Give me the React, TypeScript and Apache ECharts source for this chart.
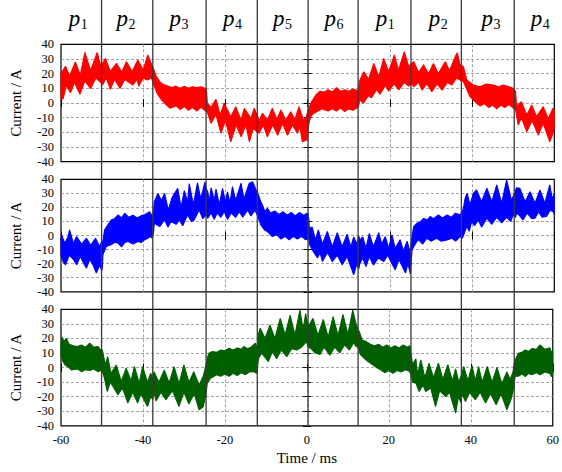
import React, { useEffect, useRef } from "react";
import * as echarts from "echarts";

type P = [number, number];

// ---- axes / layout data ----
const xMin = -60;
const xMax = 60;
const xStep = 20;
const yMin = -40;
const yMax = 40;
const yStep = 10;

// phase boundaries (ms) and phase labels
const phaseBounds = [-50.1, -37.6, -24.6, -12.1, 0.3, 12.5, 25.4, 37.7, 50.6];
const phaseNames = ["1", "2", "3", "4", "5", "6", "1", "2", "3", "4"];
const phaseLabelT = [-55.8, -44.2, -31.3, -18.3, -6.1, 6.4, 18.9, 31.8, 44.6, 56.6];

// ---- red (top) band: upper and lower envelope [time ms, current A] ----
const redUpper: P[] = [[-60,20],[-59.6,22],[-58.9,25],[-57.9,18.5],[-56.5,28],[-55.3,19],[-54.2,34.5],[-52.8,22],[-51.2,34.5],[-50.3,25],[-49.2,30.4],[-48,21.5],[-46.5,27],[-45.2,21],[-44.1,28.2],[-42.7,21.5],[-41.3,29.3],[-40,22.5],[-38.9,32.7],[-38.2,28],[-37.6,24],[-36.8,18],[-35.8,14],[-35,12.5],[-34,11.5],[-33,10.5],[-32,11.5],[-31,10],[-30,11.5],[-29,10],[-28,11],[-27,10.5],[-26,11],[-25,10],[-24.6,9],[-24.4,0],[-23.5,-3],[-22.3,2.5],[-21.3,-8.2],[-20.3,-0.2],[-18.7,-9.3],[-17.5,-2.5],[-16.2,-11.6],[-15.4,-3.6],[-13.8,-10.5],[-13,-3.6],[-12.3,-8],[-11.8,-12],[-11,-7],[-9.8,-11.5],[-8.6,-3.6],[-7.5,-11],[-6.5,-4.8],[-5.3,-11.5],[-4.1,-5.9],[-3.1,-11],[-2.1,-2.5],[-1,-12],[-0.3,-9],[0.3,-3],[1,1],[2,5.5],[3,8],[4,7.5],[5,9],[6,7.5],[7,10.5],[8,8],[9,9],[10,8],[11,9.5],[12,8.5],[12.3,9],[12.6,15],[13.7,21.3],[14.8,16],[16.1,27],[17.3,18],[18.5,30.4],[19.7,21.3],[21.1,32.7],[22.1,22.4],[23.5,35],[24.6,24.7],[25.3,27],[25.8,28.2],[27,21],[28.2,26],[29.4,20],[30.6,27],[31.8,20],[33.5,28.2],[34.5,22],[35.9,31.6],[36.4,34.2],[37.1,26],[37.9,24.7],[38.7,15.7],[40.3,12.3],[41.9,11.1],[43.5,13],[45.2,12.3],[46.5,11],[47.6,12.3],[49,11],[50,10],[50.6,8],[50.8,-2],[52,0.9],[53.3,-8.2],[54.5,-1.4],[55.7,-9.3],[57.3,-2.5],[58.5,-10.5],[59.7,-3.6],[60,-5]];
const redLower: P[] = [[-60,3],[-59.5,2.7],[-58.7,12],[-57.7,7],[-56.7,14],[-55.4,6],[-54.2,15],[-52.8,9.8],[-51.5,17],[-50.5,14.5],[-49.9,12.3],[-49,17],[-48,9.3],[-47,16],[-45.6,10],[-44.5,16],[-42.5,12.3],[-41.5,16],[-41.1,11.5],[-40,17],[-39,15.7],[-38,17],[-37.4,12],[-36.5,6],[-35.5,2],[-34.5,-1],[-33.5,-3.5],[-32,-2],[-31,-4.5],[-30,-2.5],[-29,-5],[-28,-3],[-27,-5.5],[-26,-3],[-25,-5],[-24.6,-6],[-24.3,-7],[-23.5,-13.8],[-22.3,-8],[-21.1,-20.6],[-20,-12],[-18.7,-26.4],[-17.4,-15],[-16.2,-23],[-15,-15],[-14.2,-26.4],[-13.2,-17],[-12.6,-19],[-11.8,-20.6],[-10.8,-15],[-9.8,-23],[-8.5,-15],[-7.3,-22],[-6.1,-14],[-4.9,-22],[-3.7,-15],[-2.5,-20.6],[-1.9,-16],[-1.3,-26.4],[-0.1,-25],[0.3,-14],[0.8,-9],[1.5,-7],[2.5,-5.5],[3.5,-4],[5,-5.5],[6,-4],[7,-5.5],[8,-3.5],[9,-5.8],[10,-4],[11,-5],[12,-3.5],[12.4,-2],[12.7,2],[13.6,0],[14.8,5],[15.5,3.5],[16.8,9],[17.6,6],[18.9,12],[19.7,8],[21,13],[22.2,9],[23.5,14],[24.6,11.5],[25.3,13],[25.8,11.1],[27,14],[27.8,8.8],[29,13],[30.2,7.7],[31.5,13],[32.7,8.8],[34,14],[35.1,12.3],[36.2,17],[37.1,15.6],[37.9,14.5],[39.5,4.3],[41.1,-0.2],[42,-2],[43,-0.5],[44,-3],[45,-1.5],[46,-4],[47,-1.5],[48,-3],[49,-1],[50,-3.5],[50.6,-4.8],[51.2,-15],[52,-10],[53.3,-19.6],[54.6,-12],[56.1,-21.8],[57.3,-14],[58.9,-26.4],[59.7,-20.6],[60,-17]];

// ---- blue (middle) band ----
const blueUpper: P[] = [[-60,-2],[-59.8,0],[-59.1,-5.4],[-58.3,-1],[-57.9,4],[-57,-5.4],[-56.2,-0.7],[-55,-6],[-53.8,-1.9],[-52.8,-7],[-51.6,-2],[-50.6,-7.8],[-50.1,-4],[-49.8,-4],[-49.4,4],[-48.6,7.6],[-47.8,11.1],[-47,12],[-46.1,14.7],[-45.3,12.5],[-44.5,15.9],[-43.5,13],[-42.5,14.5],[-41.5,12.5],[-40.5,14],[-39.7,14.7],[-38.5,17],[-37.8,14],[-37.5,16],[-37.3,24],[-36.4,30],[-35.6,25],[-34.8,30],[-33.9,18],[-33,27],[-31.6,33.6],[-30.8,20],[-30,32],[-29.2,24],[-28.8,37],[-27.8,22],[-26.8,37.5],[-26,26],[-25,38],[-24.6,33],[-24.3,31],[-23.9,24],[-23.5,34],[-22.7,25],[-22.3,33],[-21.5,22],[-20.7,33.6],[-20,24],[-19.5,31],[-18.9,23],[-18.3,34.8],[-17.5,25],[-16.2,37.2],[-15.5,26],[-14.2,37.2],[-13.4,38.3],[-12.6,33],[-12.1,30],[-11.4,24],[-11,21.8],[-10.4,17],[-9.8,19.4],[-9,16],[-8,17.5],[-7,15],[-6,17],[-5,14.5],[-4,16.5],[-3,14],[-2,16.5],[-1,14.5],[0,16],[0.3,12],[0.4,5],[1.1,6],[1.9,-3],[2.6,4],[3.6,-6],[4.8,3],[6,-8],[7.2,2],[8.4,-8],[9.6,1],[10.5,-8],[11.2,-1],[12,-6],[12.4,0],[12.7,-3],[13.4,-1],[14.2,-9],[15,1.6],[16,-8],[17.3,2],[18,-6],[18.9,-0.7],[19.7,-9],[20.5,0.5],[21.3,-9],[22.5,-3],[23.3,-11],[24.2,-4],[24.9,-12],[25.3,-2],[25.8,6.4],[26.6,8.8],[27.5,10],[28.2,12.3],[29,11],[29.8,13.5],[30.6,12],[31.8,14.7],[32.8,12.5],[33.9,14.7],[35,13],[35.9,15.9],[37.1,14.7],[37.6,17],[37.9,19.4],[38.3,26.5],[38.8,30],[39.5,21.8],[40.3,30],[41.1,32.4],[42.3,24],[43.6,33.6],[44.8,24.1],[46,36],[47.2,23],[48.4,39.5],[49.6,25],[50.8,34],[51.6,33.6],[52.9,24],[54.1,31.2],[55.3,23],[56.5,32.4],[57.7,23],[58.9,36],[59.5,26],[60,30]];
const blueLower: P[] = [[-60,-14],[-59.5,-18.5],[-58.9,-20.8],[-58,-14],[-57,-17],[-56.2,-20.8],[-55.3,-15],[-54.5,-19.6],[-53.8,-23.2],[-53,-17],[-52.2,-21],[-51.4,-26.7],[-50.6,-21],[-50.1,-25],[-49.9,-22],[-49.8,-13.7],[-49,-7.8],[-47.8,-6.6],[-46.9,-4.8],[-46.1,-5.4],[-45.3,-8],[-44.5,-5],[-43.7,-4.3],[-42.5,-6],[-41.3,-4.3],[-40.5,-5],[-39.7,-3.1],[-38.1,-0.7],[-37.8,-2],[-37.5,2],[-37.3,8.8],[-36,6.4],[-34.8,11.1],[-34,6],[-33.2,10],[-32,8],[-31.2,11],[-30.4,7],[-29.2,14.7],[-28.3,10],[-27.6,11.1],[-26.4,18.2],[-25.5,12],[-24.6,15],[-24.3,12.3],[-23.5,16],[-22.7,11.5],[-22,16],[-21.1,13],[-20.3,17],[-19.5,11.5],[-18.6,16],[-17.5,13],[-16.6,17],[-15.8,13],[-14.6,18],[-13.8,14],[-12.8,18],[-12.2,14],[-11.4,7.6],[-10.5,4],[-9.8,2.8],[-8.6,-0.7],[-7.5,0.5],[-6.5,-2.5],[-5.5,-0.5],[-4.5,-3],[-3.5,-0.5],[-2.5,-2.5],[-1.5,-0.5],[-0.5,-3],[0.3,-2],[0.4,-6],[1.1,-10],[2.4,-16],[3,-12],[3.6,-18.5],[4.8,-12],[6,-18.5],[7.2,-14],[8.4,-20.8],[9.6,-15],[11.2,-27.9],[12,-20],[12.4,-24],[12.7,-20],[13.4,-16],[14.2,-22],[15,-15],[16,-21],[17.2,-16],[18.5,-18.5],[19.5,-14],[20.5,-20],[21.3,-24.4],[22.2,-17],[23.8,-26.7],[24.4,-20],[25,-27.4],[25.4,-10],[25.8,-8],[26.6,-4],[27,-3.1],[28,-6],[29,-1.9],[30,-4],[31.4,-1.9],[32.5,-4],[33.9,-3.1],[35.1,-1.9],[36,-4],[37.1,-0.7],[37.6,-2],[37.9,0],[38.7,6.4],[39.3,3],[39.9,9.9],[40.6,7],[41.5,11],[42.3,6],[43.6,12.3],[44.8,8],[46,13],[47.2,9],[48.4,13],[49.4,10],[50,14.7],[50.6,13],[50.8,16],[51.6,14],[52.4,11.1],[53.4,16],[54.5,12],[55.3,12.3],[56.2,17],[57,13],[58.1,13.5],[59,18],[59.7,17],[60,15]];

// ---- green (bottom) band ----
const greenUpper: P[] = [[-60,16],[-59.8,21],[-59.3,18],[-58.7,20],[-58,16],[-57,15],[-56,14.5],[-55,15.5],[-54,14],[-53,16.7],[-52,14],[-51,14.5],[-50.3,12],[-49.9,12],[-49.2,2],[-48.6,7.5],[-47.8,-4],[-46.5,1.8],[-45.3,-9.6],[-44.1,-0.4],[-42.9,-9],[-42.1,0.7],[-40.9,-10.7],[-40.1,0.7],[-38.9,-10],[-38.1,-3.9],[-37.6,-8],[-37.3,-2.8],[-36.1,-10],[-34.8,-1.6],[-33.6,-10.5],[-32.4,0.7],[-31.2,-11],[-30,1.9],[-28.8,-10],[-27.6,-2.8],[-26.3,-12],[-25.3,-6],[-24.6,2],[-24.3,6.4],[-23.9,9.8],[-23.1,11],[-22,10.5],[-21,12],[-20,11.5],[-19,13.3],[-18,12],[-17,13.5],[-16,12.5],[-15.4,14.4],[-14.5,13],[-13.6,14],[-12.6,16.7],[-12.2,13],[-11.9,22],[-11.4,27],[-10.2,20.1],[-9,29.2],[-7.8,20],[-6.5,33.8],[-5.3,22.4],[-4.1,36],[-2.9,22.4],[-1.7,39.5],[-0.9,26],[-0.3,37],[0.3,28],[1.5,33.8],[2.7,22],[4,33],[5.2,21],[6.4,35],[7.6,22],[8.8,36.5],[10,23],[11.2,39.5],[12,30],[12.5,26],[12.8,24.7],[13.5,19],[14.5,17.8],[15.5,16],[16.5,15],[17.5,16],[18.5,14],[19.5,15.5],[20.5,13.5],[21.5,15],[22.5,13.5],[23.5,15.5],[24.5,14],[25.2,15],[25.4,10],[25.8,2],[26.6,6],[27,-5],[27.8,5.3],[28.8,-7],[29.8,3],[30.9,-7],[32.1,3],[33.2,-8],[34.4,2],[35.5,-9],[36.3,-1],[37.1,-10],[37.6,-6],[37.8,-4],[38.3,0.7],[39.3,-9],[40.3,1.5],[41.1,-9],[41.9,0.7],[42.8,-10],[44,0.7],[45.2,-10],[46.4,0],[47.6,-11],[48.8,-3],[49.6,-8],[50.3,-3],[50.6,3],[50.8,5],[51.6,9.8],[52.5,10.5],[53.3,12.1],[54.1,11],[54.9,13],[56,12.5],[56.9,15.5],[58.1,12.5],[59.3,13.5],[59.7,10],[60,12]];
const greenLower: P[] = [[-60,8],[-59.5,4],[-59,1.8],[-58,0],[-57.5,-1.6],[-56,-1],[-55,-2.8],[-54,-1.5],[-53,-2],[-52,-1],[-51,-2.8],[-50.3,-2],[-49.9,-3],[-49.4,-7.3],[-48.7,-16.5],[-48,-10],[-47.3,-13],[-46.1,-18.7],[-45,-14],[-43.7,-24.4],[-42.5,-17],[-41.3,-24.4],[-40.5,-18],[-38.9,-26.8],[-38.1,-20],[-37.6,-22],[-37.3,-17],[-36.8,-23],[-35.6,-17],[-34.4,-22],[-32.8,-16],[-31.2,-26.7],[-30,-17],[-28.8,-25],[-27.5,-18],[-26.3,-29],[-25.3,-27],[-24.6,-18],[-24.3,-10.7],[-23.5,-7.3],[-22,-5],[-21,-6],[-20,-4.5],[-19,-6],[-18,-4],[-17,-5.5],[-16,-3.5],[-15,-5],[-14,-3],[-13,-2.8],[-12.3,-4],[-12.1,-2],[-11.8,6.4],[-11,9.8],[-9.4,4.1],[-8.4,11],[-7.4,6],[-6.2,12],[-4.9,7.5],[-3.7,13],[-2.5,12.1],[-1.3,14],[-0.1,17.8],[0.3,14],[1,13],[2,10],[3.2,9],[4.2,14],[5.6,8.5],[6.8,14],[8,10],[9.2,15.5],[10.4,12],[11.4,17],[12,14.5],[12.5,14],[13,9],[14,6.4],[15,4],[16,2],[17,0],[18,-1.6],[19,-3.5],[20,-2],[21,-3.9],[22,-2],[23,-3],[24,-1.5],[25,-2.5],[25.3,-4],[25.4,-5],[25.8,-10],[26.6,-10.7],[27.4,-16.5],[28.3,-12],[29,-16.5],[30.2,-14],[31.4,-26.8],[32.4,-16],[33.9,-20],[34.8,-17],[36.3,-31.3],[37,-20],[37.6,-24],[37.8,-18],[38.7,-23.3],[39.7,-17],[41.1,-22],[42.3,-17],[43.6,-24.4],[44.8,-18],[46.2,-25.6],[47.4,-18],[48.8,-29],[49.8,-22],[50.5,-14],[50.8,-6],[51.6,-6],[52.5,-4.5],[53.3,-6.2],[54.1,-4],[54.9,-5],[56,-3.5],[56.9,-5],[58.1,-3],[59.3,-4],[59.7,-6.2],[60,-5]];

const bands = [
  { upper: redUpper, lower: redLower, color: "#ff0000" },
  { upper: blueUpper, lower: blueLower, color: "#0000ff" },
  { upper: greenUpper, lower: greenLower, color: "#006000" },
];

const FONT = "'Liberation Serif', 'DejaVu Serif', 'Times New Roman', serif";

const gridBoxes = [
  { top: 44.3, height: 117.4 },
  { top: 179.3, height: 112.5 },
  { top: 309.3, height: 116.5 },
];

function buildOption() {
  const grid = gridBoxes.map((g) => ({
    left: 59.5,
    right: 7.7,
    top: g.top,
    height: g.height,
    show: true,
    borderColor: "#000",
    borderWidth: 1.2,
    backgroundColor: "transparent",
  }));

  const splitStyle = { color: "#9a9a9a", type: [3, 2] as any, width: 0.9 };
  const tickStyle = { show: true, inside: true, length: 4, lineStyle: { color: "#000", width: 1 } };

  const xAxis: any[] = [];
  gridBoxes.forEach((_, i) => {
    xAxis.push({
      type: "value",
      gridIndex: i,
      position: "bottom",
      min: xMin,
      max: xMax,
      interval: xStep,
      axisLine: { show: false },
      axisTick: tickStyle,
      axisLabel: {
        show: i === 2,
        color: "#000",
        fontFamily: FONT,
        fontSize: 12.5,
        margin: 8,
      },
      splitLine: { show: true, showMinLine: false, showMaxLine: false, lineStyle: splitStyle },
      name: i === 2 ? "Time / ms" : "",
      nameLocation: "middle",
      nameGap: 25,
      nameTextStyle: { color: "#000", fontFamily: FONT, fontSize: 15 },
    });
  });
  gridBoxes.forEach((_, i) => {
    xAxis.push({
      type: "value",
      gridIndex: i,
      position: "top",
      min: xMin,
      max: xMax,
      interval: xStep,
      axisLine: { show: false },
      axisTick: tickStyle,
      axisLabel: { show: false },
      splitLine: { show: false },
    });
  });

  const yAxis: any[] = [];
  gridBoxes.forEach((_, i) => {
    yAxis.push({
      type: "value",
      gridIndex: i,
      position: "left",
      min: yMin,
      max: yMax,
      interval: yStep,
      axisLine: { show: false },
      axisTick: tickStyle,
      axisLabel: { color: "#000", fontFamily: FONT, fontSize: 12.5, margin: 7 },
      splitLine: { show: true, showMinLine: false, showMaxLine: false, lineStyle: splitStyle },
      name: "Current / A",
      nameLocation: "middle",
      nameRotate: 90,
      nameGap: 38,
      nameTextStyle: { color: "#000", fontFamily: FONT, fontSize: 15 },
    });
    yAxis.push({
      type: "value",
      gridIndex: i,
      position: "right",
      min: yMin,
      max: yMax,
      interval: yStep,
      axisLine: { show: false },
      axisTick: tickStyle,
      axisLabel: { show: false },
      splitLine: { show: false },
    });
  });

  const series: any[] = bands.map((b, i) => {
    const ring: P[] = b.upper.concat(b.lower.slice().reverse());
    return {
      type: "custom",
      xAxisIndex: i,
      yAxisIndex: i * 2,
      data: ring,
      silent: true,
      z: 3,
      renderItem: (params: any, api: any) => {
        if (params.dataIndex !== 0) return null;
        const pts = ring.map((p) => api.coord(p));
        return {
          type: "polygon",
          shape: { points: pts },
          style: { fill: b.color, stroke: b.color, lineWidth: 1.1, lineJoin: "bevel" },
        };
      },
    };
  });

  // phase boundary lines, running from the page top down to the bottom panel's floor
  series.push({
    type: "custom",
    xAxisIndex: 2,
    yAxisIndex: 4,
    data: phaseBounds.map((t) => [t, yMin]),
    silent: true,
    z: 10,
    renderItem: (params: any, api: any) => {
      const c = api.coord([api.value(0), api.value(1)]);
      return {
        type: "line",
        shape: { x1: c[0], y1: 0, x2: c[0], y2: c[1] },
        style: { stroke: "#3a3a3a", lineWidth: 1.3 },
      };
    },
  });

  // phase labels above the top panel
  series.push({
    type: "custom",
    xAxisIndex: 0,
    yAxisIndex: 0,
    data: phaseLabelT.map((t) => [t, yMax]),
    silent: true,
    z: 10,
    renderItem: (params: any, api: any) => {
      const c = api.coord([api.value(0), api.value(1)]);
      const sub = phaseNames[params.dataIndex];
      return {
        type: "group",
        children: [
          {
            type: "text",
            style: {
              text: "p",
              x: c[0] + 2,
              y: c[1] - 25.9,
              align: "right",
              textAlign: "right",
              verticalAlign: "middle",
              textVerticalAlign: "middle",
              font: `italic 23px ${FONT}`,
              fill: "#000",
            },
          },
          {
            type: "text",
            style: {
              text: sub,
              x: c[0] + 2.5,
              y: c[1] - 19.9,
              align: "left",
              textAlign: "left",
              verticalAlign: "middle",
              textVerticalAlign: "middle",
              font: `14px ${FONT}`,
              fill: "#000",
            },
          },
        ],
      };
    },
  });

  return {
    animation: false,
    backgroundColor: "#ffffff",
    grid,
    xAxis,
    yAxis,
    series,
  };
}

export default function App() {
  const ref = useRef<HTMLDivElement>(null);
  useEffect(() => {
    if (!ref.current) return;
    const chart = echarts.init(ref.current, undefined, { renderer: "svg", width: 562, height: 472 });
    chart.setOption(buildOption() as any);
    return () => chart.dispose();
  }, []);
  return (
    <div
      ref={ref}
      style={{ position: "fixed", left: 0, top: 0, width: 562, height: 472, background: "#fff" }}
    />
  );
}
